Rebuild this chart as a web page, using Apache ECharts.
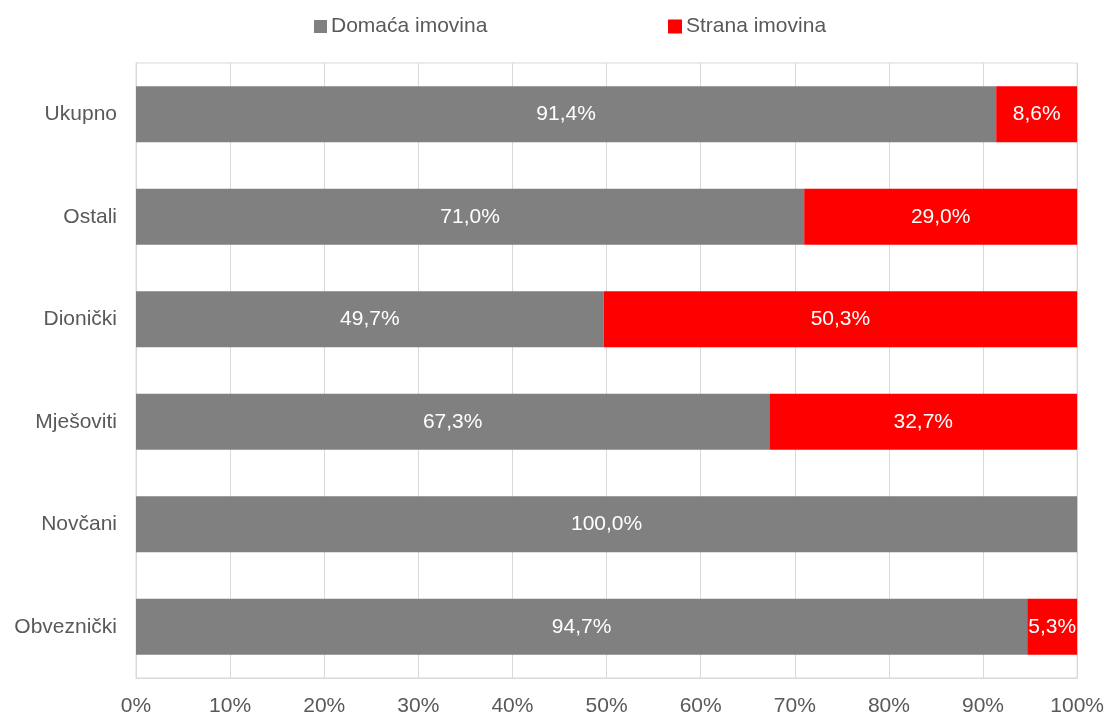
<!DOCTYPE html>
<html>
<head>
<meta charset="utf-8">
<script src="https://cdn.jsdelivr.net/npm/echarts@6/dist/echarts.min.js"></script>
<style>
html,body{margin:0;padding:0;background:#fff;}
#c{width:1107px;height:717px;}
</style>
</head>
<body>
<div id="c"></div>
<script>
const categories = ['Ukupno', 'Ostali', 'Dionički', 'Mješoviti', 'Novčani', 'Obveznički'];
const domestic = [91.4, 71.0, 49.7, 67.3, 100.0, 94.7];
const foreign = [8.6, 29.0, 50.3, 32.7, 0, 5.3];
const seriesNames = ['Domaća imovina', 'Strana imovina'];

const FONT = '"Liberation Sans", Arial, sans-serif';
const TXT = '#595959';
const fmt = p => (p.value ? p.value.toFixed(1).replace('.', ',') + '%' : '');

const chart = echarts.init(document.getElementById('c'));
chart.setOption({
  animation: false,
  backgroundColor: '#fff',
  legend: [
    {data: [seriesNames[0]], left: 314, top: 16, padding: 0, itemWidth: 13, itemHeight: 13, itemGap: 0,
     icon: 'rect', textStyle: {color: TXT, fontSize: 21, fontFamily: FONT, padding: [0, 0, 0, -1]}},
    {data: [seriesNames[1]], left: 668, top: 16, padding: 0, itemWidth: 14, itemHeight: 14, itemGap: 0,
     icon: 'rect', textStyle: {color: TXT, fontSize: 21, fontFamily: FONT, padding: [0, 0, 0, -1]}}
  ],
  grid: {left: 136, right: 29, top: 63, bottom: 38, show: true, borderColor: '#d9d9d9', borderWidth: 1, containLabel: false},
  xAxis: {
    type: 'value', min: 0, max: 100, interval: 10,
    axisLine: {show: true, lineStyle: {color: '#d9d9d9'}},
    axisTick: {show: false},
    splitLine: {show: true, lineStyle: {color: '#d9d9d9', width: 1}},
    axisLabel: {formatter: '{value}%', color: TXT, fontSize: 21, fontFamily: FONT, margin: 18}
  },
  yAxis: {
    type: 'category', data: categories, inverse: true,
    axisLine: {show: true, lineStyle: {color: '#d9d9d9'}},
    axisTick: {show: false},
    axisLabel: {color: TXT, fontSize: 21, fontFamily: FONT, margin: 19, padding: [3, 0, 0, 0]}
  },
  series: [
    {name: seriesNames[0], type: 'bar', stack: 't', data: domestic, barWidth: 56,
     itemStyle: {color: '#808080'},
     label: {show: true, position: 'inside', color: '#fff', fontSize: 21, fontFamily: FONT, formatter: fmt, padding: [3, 0, 0, 0]}},
    {name: seriesNames[1], type: 'bar', stack: 't', data: foreign, barWidth: 56,
     itemStyle: {color: '#ff0000'},
     label: {show: true, position: 'inside', color: '#fff', fontSize: 21, fontFamily: FONT, formatter: fmt, padding: [3, 0, 0, 0]}}
  ]
});
</script>
</body>
</html>
